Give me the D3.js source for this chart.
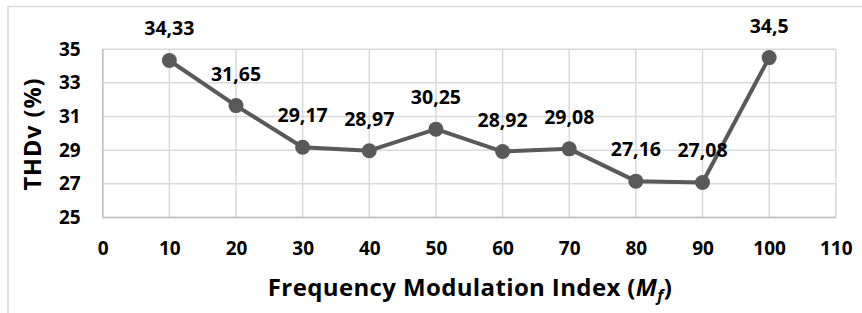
<!DOCTYPE html>
<html><head><meta charset="utf-8">
<script src="https://cdn.jsdelivr.net/npm/d3@7"></script>
<style>
html,body{margin:0;padding:0;background:#fff;}
svg{display:block;font-family:"Open Sans",sans-serif;}
</style></head>
<body>
<svg id="c" width="862" height="313"></svg>
<script>
const mfValues = [10, 20, 30, 40, 50, 60, 70, 80, 90, 100];
const thdValues = [34.33, 31.65, 29.17, 28.97, 30.25, 28.92, 29.08, 27.16, 27.08, 34.5];
const xTicks = [0, 10, 20, 30, 40, 50, 60, 70, 80, 90, 100, 110];
const yTicks = [25, 27, 29, 31, 33, 35];
const yTitle = "THDv (%)";

const FONT = "'Open Sans', sans-serif";
const svg = d3.select("#c");
const x = d3.scaleLinear().domain([0, 110]).range([102.7, 835.8]);
const y = d3.scaleLinear().domain([25, 35]).range([217.5, 49.2]);

function fitWidth(sel, target) {
  const node = sel.node();
  const w = node.getComputedTextLength();
  const n = node.textContent.length;
  if (n > 1) sel.attr("letter-spacing", ((target - w) / (n - 1)).toFixed(2));
}

// chart area border
svg.append("rect").attr("x", 8).attr("y", 6.5).attr("width", 900).attr("height", 400)
  .attr("fill", "none").attr("stroke", "#d9d9d9").attr("stroke-width", 1.5);

const grid = svg.append("g");
grid.selectAll("line.h").data(yTicks).join("line")
  .attr("x1", x(0)).attr("x2", x(110)).attr("y1", d => y(d)).attr("y2", d => y(d))
  .attr("stroke", "#d9d9d9").attr("stroke-width", 1.5);
grid.selectAll("line.v").data(xTicks).join("line")
  .attr("y1", y(25)).attr("y2", y(35)).attr("x1", d => x(d)).attr("x2", d => x(d))
  .attr("stroke", "#d9d9d9").attr("stroke-width", 1.5);

// axis lines
svg.append("line").attr("x1", x(0)).attr("x2", x(110)).attr("y1", y(25)).attr("y2", y(25))
  .attr("stroke", "#bfbfbf").attr("stroke-width", 1.5);
svg.append("line").attr("x1", x(0)).attr("x2", x(0)).attr("y1", y(25)).attr("y2", y(35))
  .attr("stroke", "#bfbfbf").attr("stroke-width", 1.5);

// axes (labels only)
const xAxis = svg.append("g").attr("transform", `translate(0,${y(25)})`)
  .call(d3.axisBottom(x).tickValues(xTicks).tickSize(0).tickPadding(24));
xAxis.select(".domain").remove();
xAxis.selectAll("text").attr("font-size", 19).attr("font-weight", "bold")
  .attr("fill", "#000").attr("font-family", FONT);

const yAxis = svg.append("g").attr("transform", `translate(${x(0)},0)`)
  .call(d3.axisLeft(y).tickValues(yTicks).tickSize(0).tickPadding(22));
yAxis.select(".domain").remove();
yAxis.selectAll("text").attr("font-size", 19).attr("font-weight", "bold")
  .attr("fill", "#000").attr("font-family", FONT);

// line
const pts = mfValues.map((m, i) => [m, thdValues[i]]);
svg.append("path").datum(pts)
  .attr("d", d3.line().x(d => x(d[0])).y(d => y(d[1])))
  .attr("fill", "none").attr("stroke", "#595959").attr("stroke-width", 4)
  .attr("stroke-linejoin", "round");
svg.selectAll("circle.pt").data(pts).join("circle")
  .attr("cx", d => x(d[0])).attr("cy", d => y(d[1])).attr("r", 7.5)
  .attr("fill", "#595959");

// data labels
svg.selectAll("text.lbl").data(pts).join("text")
  .attr("x", d => x(d[0])).attr("y", d => y(d[1]) - 25)
  .attr("text-anchor", "middle").attr("font-size", 19.5).attr("font-weight", "bold")
  .attr("fill", "#000")
  .text(d => String(d[1]).replace(".", ","));

// y title
const yt = svg.append("text").attr("transform", `translate(41,134) rotate(-90)`)
  .attr("text-anchor", "middle").attr("font-size", 23.5).attr("font-weight", "bold")
  .attr("fill", "#000").text(yTitle);
fitWidth(yt, 112);

// x title
const xt = svg.append("text").attr("x", 470).attr("y", 296)
  .attr("text-anchor", "middle").attr("font-size", 24).attr("font-weight", "bold")
  .attr("fill", "#000");
xt.append("tspan").text("Frequency Modulation Index (");
xt.append("tspan").attr("font-style", "italic").text("M");
xt.append("tspan").attr("font-style", "italic").attr("font-size", 16).attr("dy", 5).text("f");
xt.append("tspan").attr("dy", -5).text(")");
fitWidth(xt, 404);
</script>
</body></html>
